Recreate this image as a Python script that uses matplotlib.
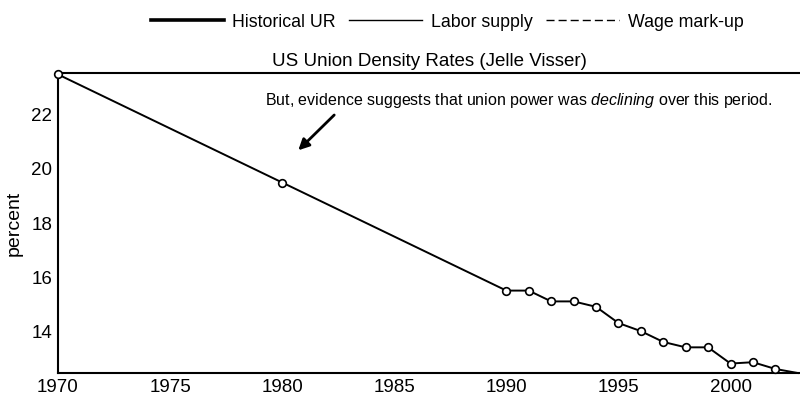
import matplotlib
matplotlib.use("Agg")
import matplotlib.pyplot as plt
from matplotlib.lines import Line2D

years = [1970, 1980, 1990, 1991, 1992, 1993, 1994, 1995, 1996, 1997,
         1998, 1999, 2000, 2001, 2002, 2003]
density = [23.5, 19.5, 15.5, 15.5, 15.1, 15.1, 14.9, 14.3, 14.0, 13.6,
           13.4, 13.4, 12.8, 12.85, 12.6, 12.45]
xTicks = [1970, 1975, 1980, 1985, 1990, 1995, 2000]
yTicks = [14, 16, 18, 20, 22]
legendLabels = ["Historical UR", "Labor supply", "Wage mark-up"]

plt.rcParams["font.family"] = ["Liberation Sans", "DejaVu Sans"]
plt.rcParams["mathtext.fontset"] = "custom"
plt.rcParams["mathtext.it"] = "Liberation Sans:italic"
plt.rcParams["mathtext.rm"] = "Liberation Sans"

fig = plt.figure(figsize=(8.0, 4.01), dpi=100)
ax = fig.add_axes([0.0725, 0.0698, 0.9275, 0.748])

# last point runs off the right edge, so no marker there
ax.plot(years, density, color="black", linewidth=1.4, marker="o", markersize=5.5,
        markerfacecolor="white", markeredgecolor="black", markeredgewidth=1.2,
        markevery=list(range(len(years) - 1)), clip_on=False, zorder=3)

ax.set_xlim(1970, 2003.1)
ax.set_ylim(12.45, 23.55)
ax.set_xticks(xTicks)
ax.set_yticks(yTicks)
ax.tick_params(length=0, labelsize=13.5, pad=4)
ax.spines["right"].set_visible(False)
for side in ("left", "bottom", "top"):
    ax.spines[side].set_linewidth(1.5)
ax.set_ylabel("percent", fontsize=14, labelpad=6)
ax.set_title("US Union Density Rates (Jelle Visser)", fontsize=13.5, pad=5)

# note + arrow pointing at the 1980 segment
ax.annotate("", xy=(1980.63, 20.62), xytext=(1982.41, 22.07),
            arrowprops=dict(arrowstyle="-|>", color="black", lw=2.0, mutation_scale=16))
ax.text(0.279, 0.91, "But, evidence suggests that union power was $\\it{declining}$ over this period.",
        transform=ax.transAxes, fontsize=11.5, ha="left", va="center")

handles = [
    Line2D([], [], color="black", linewidth=2.6),
    Line2D([], [], color="black", linewidth=1.0),
    Line2D([], [], color="black", linewidth=1.0, linestyle=(0, (5.8, 2.9))),
]
fig.legend(handles, legendLabels, loc="center", bbox_to_anchor=(0.559, 0.945), ncol=3,
           frameon=False, fontsize=12.8, handlelength=4.1, columnspacing=0.75,
           handletextpad=0.5)

fig.savefig("out.png", dpi=100)
